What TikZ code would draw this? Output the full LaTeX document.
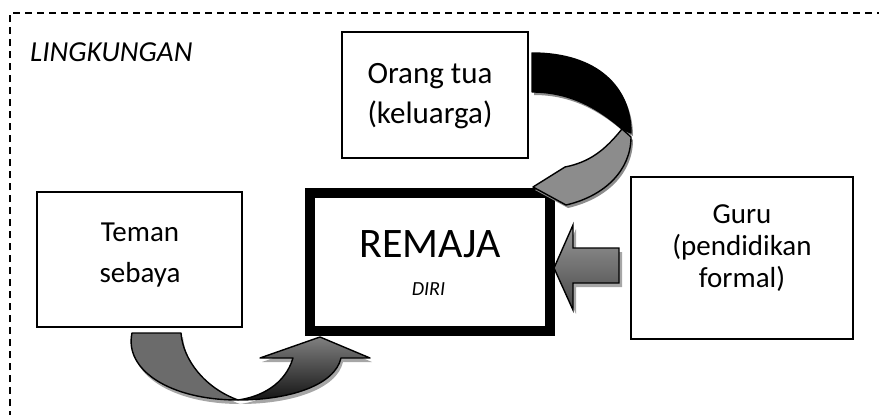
\documentclass[tikz,border=0pt]{standalone}
\usepackage{fontspec}
\setmainfont{Carlito}
\begin{document}
\begin{tikzpicture}[x=1pt,y=-1pt,
  plainbox/.style={draw=black,line width=1.3pt,inner sep=0pt,fill=white},
  bigbox/.style={draw=black,line width=10pt,inner sep=0pt,fill=white},
  txt/.style={inner sep=0pt,anchor=base},
  ribbon/.style={draw=black,line width=1.4pt,line join=round},
  shadowfill/.style={fill=black!45,draw=none},
  softshadow/.style={fill=black!35,draw=none}]
\useasboundingbox (0,0) rectangle (879,415);
% environment frame
\draw[line width=1.3pt,dash pattern=on 7pt off 5pt] (10,430) -- (10,13) -- (890,13);
\node[txt,anchor=base west] (lingk) at (30,61) {\fontsize{29}{35}\selectfont\itshape LINGKUNGAN};

% boxes
\node[plainbox,minimum width=186pt,minimum height=126pt] (ortu) at (435,95) {};
\node[plainbox,minimum width=205pt,minimum height=135pt] (teman) at (139.5,259.5) {};
\node[plainbox,minimum width=222pt,minimum height=162pt] (guru) at (742,258) {};
\node[bigbox,minimum width=240pt,minimum height=138pt] (remaja) at (430,262) {};

% texts
\node[txt] (ortu1) at (430,83) {\fontsize{31}{37}\selectfont Orang tua};
\node[txt] (ortu2) at (430,123) {\fontsize{31}{37}\selectfont (keluarga)};
\node[txt] (teman1) at (140,241) {\fontsize{29}{35}\selectfont Teman};
\node[txt] (teman2) at (140,282) {\fontsize{29}{35}\selectfont sebaya};
\node[txt] (guru1) at (742,223) {\fontsize{29}{35}\selectfont Guru};
\node[txt] (guru2) at (742,255) {\fontsize{29}{35}\selectfont (pendidikan};
\node[txt] (guru3) at (742,287) {\fontsize{29}{35}\selectfont formal)};
\node[txt] (rem) at (430,257) {\fontsize{42}{50}\selectfont REMAJA};
\node[txt] (diri) at (428.5,295) {\fontsize{20}{24}\selectfont\itshape DIRI};

% arrow: Orang tua -> REMAJA (curled ribbon)
\begin{scope}[shift={(2,3)}]
  \fill[shadowfill] (532,53) .. controls (598,53) and (631,88) .. (631,133)
     -- (622,129) .. controls (600,110) and (572,92) .. (532,92) -- cycle;
  \fill[shadowfill] (622,129) .. controls (605,150) and (590,162) .. (565,167)
     -- (533,187) -- (566,205) .. controls (605,196) and (631,170) .. (631,137) -- cycle;
\end{scope}
\path[ribbon,fill=black] (532,53) .. controls (598,53) and (631,88) .. (631,133)
   -- (622,129) .. controls (600,110) and (572,92) .. (532,92) -- cycle;
\path[ribbon,fill=black!45] (622,129) .. controls (605,150) and (590,162) .. (565,167)
   -- (533,187) -- (566,205) .. controls (605,196) and (631,170) .. (631,137) -- cycle;

% arrow: Teman sebaya -> REMAJA (U-turn)
\begin{scope}[shift={(2,4)}]
  \fill[softshadow] (238,400) .. controls (290,400) and (335,385) .. (341,358)
     -- (370,358) -- (320,337) -- (260,358) -- (293,358)
     .. controls (285,385) and (260,397) .. (238,400) -- cycle;
  \fill[softshadow] (132,333) -- (181,333) .. controls (183,360) and (205,388) .. (238,400)
     .. controls (170,400) and (124,370) .. (132,333) -- cycle;
\end{scope}
\path[ribbon,top color=black!50,bottom color=black!92] (238,400) .. controls (290,400) and (335,385) .. (341,358)
   -- (370,358) -- (320,337) -- (260,358) -- (293,358)
   .. controls (285,385) and (260,397) .. (238,400) -- cycle;
\path[ribbon,fill=black!58] (132,333) -- (181,333) .. controls (183,360) and (205,388) .. (238,400)
   .. controls (170,400) and (124,370) .. (132,333) -- cycle;

% arrow: Guru -> REMAJA (block arrow)
\begin{scope}[shift={(3,4)}]
  \fill[softshadow] (554,268) -- (573,225) -- (573,248) -- (619,248) -- (619,283)
     -- (573,283) -- (573,310) -- cycle;
\end{scope}
\path[ribbon,line join=miter,top color=black!40,bottom color=black!72] (554,268) -- (573,225) -- (573,248) -- (619,248) -- (619,283)
   -- (573,283) -- (573,310) -- cycle;
\end{tikzpicture}
\end{document}
